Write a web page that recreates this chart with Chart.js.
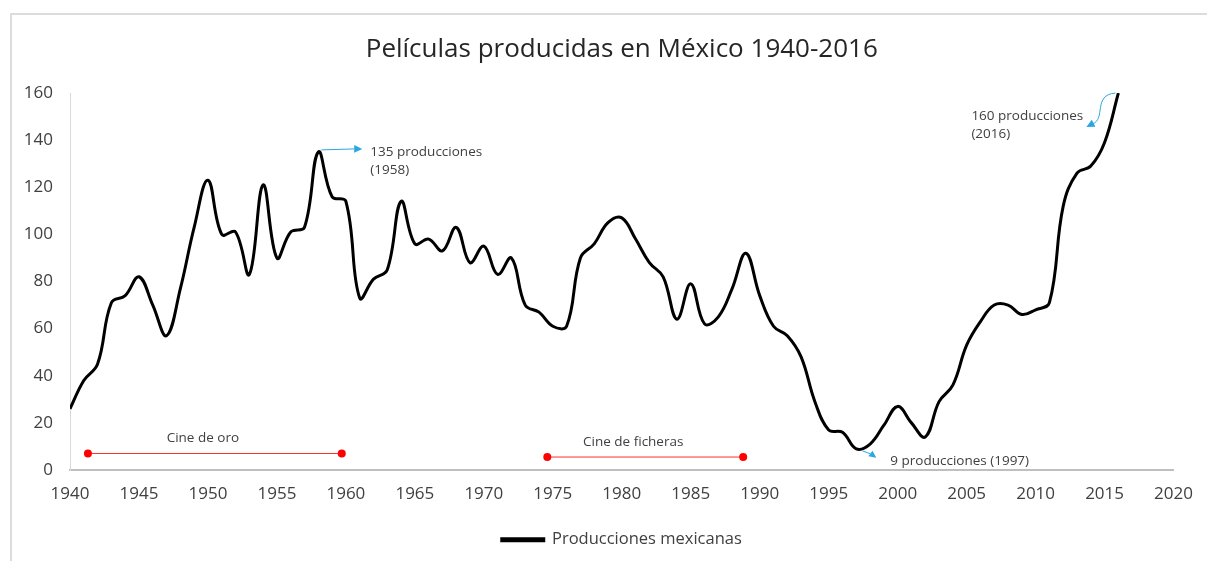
<!DOCTYPE html>
<html>
<head>
<meta charset="utf-8">
<script src="https://cdn.jsdelivr.net/npm/chart.js@4"></script>
<style>
  body { margin: 0; background: #fff; }
  #frame { position: absolute; left: 10px; top: 13px; width: 1207px; height: 560px;
           border-top: 2px solid #dcdcdc; border-left: 2px solid #dcdcdc; }
  #wrap { position: absolute; left: 0; top: 0; width: 1207px; height: 561px; }
</style>
</head>
<body>
<div id="frame"></div>
<div id="wrap"><canvas id="chart" width="1207" height="561"></canvas></div>
<script>
// años y producciones
const years = [];
for (let y = 1940; y <= 2016; y++) years.push(y);
const producciones = [
    26, 38, 45, 71, 74, 82, 70, 57, 77, 103,   // 1940-1949
    123, 100, 101, 83, 121, 90, 101, 103, 135, 116, // 1950-1959
    114, 73, 81, 85, 114, 96, 98, 93, 103, 88,  // 1960-1969
    95, 83, 90, 70, 67, 61, 61, 90, 96, 105,    // 1970-1979
    107, 98, 88, 82, 64, 79, 62, 65, 77, 92,    // 1980-1989
    74, 61, 57, 48, 29, 17, 16, 9, 11, 19,      // 1990-1999
    27, 20, 14, 29, 36, 53, 63, 70, 70, 66,     // 2000-2009
    68, 71, 112, 126, 129, 139, 160             // 2010-2016
];

// periodos marcados en rojo
const periodNames = ["Cine de oro", "Cine de ficheras"];
const periodStart = [1941.3, 1974.6];
const periodEnd = [1959.7, 1988.8];
const periodLevel = [7, 5.5];

// notas con flecha azul
const noteYears = [1958, 2016, 1997];
const noteValues = [135, 160, 9];
const noteTexts = [["135 producciones", "(1958)"], ["160 producciones", "(2016)"], ["9 producciones (1997)"]];

const xTicks = { min: 1940, max: 2020, step: 5 };
const yTicks = { min: 0, max: 160, step: 20 };

const FONT = "'Open Sans', 'DejaVu Sans', sans-serif";
const BLUE = '#2aa7df';

const datasets = [{
    label: 'Producciones mexicanas',
    data: years.map((y, i) => ({ x: y, y: producciones[i] })),
    borderColor: '#000',
    backgroundColor: '#000',
    borderWidth: 3,
    pointRadius: 0,
    tension: 0.4
}];
periodNames.forEach((name, i) => {
    datasets.push({
        label: name,
        data: [{ x: periodStart[i], y: periodLevel[i] }, { x: periodEnd[i], y: periodLevel[i] }],
        borderColor: '#ff3030',
        backgroundColor: '#ff0000',
        borderWidth: 1,
        pointRadius: 4,
        pointBorderWidth: 0,
        tension: 0
    });
});

function arrowHead(ctx, x, y, ang, size) {
    ctx.beginPath();
    ctx.moveTo(x, y);
    ctx.lineTo(x - size * Math.cos(ang - 0.45), y - size * Math.sin(ang - 0.45));
    ctx.lineTo(x - size * Math.cos(ang + 0.45), y - size * Math.sin(ang + 0.45));
    ctx.closePath();
    ctx.fill();
}

// textos y flechas
const notesPlugin = {
    id: 'notes',
    afterDatasetsDraw(chart) {
        const ctx = chart.ctx;
        const xs = chart.scales.x, ys = chart.scales.y;
        ctx.save();
        ctx.fillStyle = '#404040';
        ctx.font = '13.5px ' + FONT;
        ctx.textAlign = 'center';
        ctx.textBaseline = 'middle';
        periodNames.forEach((name, i) => {
            const cx = (xs.getPixelForValue(periodStart[i]) + xs.getPixelForValue(periodEnd[i])) / 2 - 12;
            ctx.fillText(name, cx, ys.getPixelForValue(periodLevel[i]) - 15);
        });

        ctx.textAlign = 'left';
        ctx.strokeStyle = BLUE;
        ctx.lineWidth = 1;
        const pts = noteYears.map((y, i) => [xs.getPixelForValue(y), ys.getPixelForValue(noteValues[i])]);

        // 1958
        let [ax, ay] = pts[0];
        ctx.beginPath(); ctx.moveTo(ax + 3, ay - 2); ctx.lineTo(ax + 36, ay - 3); ctx.stroke();
        ctx.fillStyle = BLUE; arrowHead(ctx, ax + 44, ay - 3, 0, 9);
        ctx.fillStyle = '#404040';
        ctx.fillText(noteTexts[0][0], ax + 52, ay);
        ctx.fillText(noteTexts[0][1], ax + 52, ay + 18);

        // 2016
        [ax, ay] = pts[1];
        ctx.beginPath(); ctx.moveTo(ax - 3, ay); ctx.bezierCurveTo(ax - 26, ay + 2, ax - 12, ay + 26, ax - 26, ay + 31); ctx.stroke();
        ctx.fillStyle = BLUE; arrowHead(ctx, ax - 32, ay + 34, Math.PI * 0.85, 9);
        ctx.fillStyle = '#404040';
        ctx.fillText(noteTexts[1][0], ax - 147, ay + 23);
        ctx.fillText(noteTexts[1][1], ax - 147, ay + 41);

        // 1997
        [ax, ay] = pts[2];
        ctx.beginPath(); ctx.moveTo(ax + 6, ay + 2); ctx.lineTo(ax + 14, ay + 5); ctx.stroke();
        ctx.fillStyle = BLUE; arrowHead(ctx, ax + 20, ay + 9, Math.PI * 0.2, 8);
        ctx.fillStyle = '#404040';
        ctx.fillText(noteTexts[2][0], ax + 34, ay + 12);
        ctx.restore();
    }
};

new Chart(document.getElementById('chart'), {
    type: 'line',
    data: { datasets: datasets },
    plugins: [notesPlugin],
    options: {
        responsive: false,
        animation: false,
        layout: { padding: { left: 0, right: 30, top: 0, bottom: 3 } },
        scales: {
            x: {
                type: 'linear',
                min: xTicks.min, max: xTicks.max,
                grid: { display: false, drawTicks: false },
                border: { display: true, color: '#bfbfbf', width: 2 },
                ticks: { stepSize: xTicks.step, padding: 14, color: '#404040', font: { family: FONT, size: 17 },
                         callback: v => String(v) },
                afterFit: s => { s.height = 54; }
            },
            y: {
                min: yTicks.min, max: yTicks.max,
                grid: { display: false, drawTicks: false },
                border: { display: true, color: '#d9d9d9', width: 1 },
                ticks: { stepSize: yTicks.step, padding: 17, color: '#404040', font: { family: FONT, size: 17 } },
                afterFit: s => { s.width = 70; }
            }
        },
        plugins: {
            title: {
                display: true,
                fullSize: false,
                text: 'Películas producidas en México 1940-2016',
                color: '#262626',
                font: { family: FONT, size: 26, weight: 'normal' },
                padding: { top: 34, bottom: 27.8 }
            },
            legend: {
                position: 'bottom',
                fullSize: false,
                labels: {
                    filter: item => item.datasetIndex === 0,
                    boxWidth: 42, boxHeight: 2, padding: 7.5,
                    color: '#404040', font: { family: FONT, size: 16.5 }
                }
            },
            tooltip: { enabled: false }
        }
    }
});
</script>
</body>
</html>
